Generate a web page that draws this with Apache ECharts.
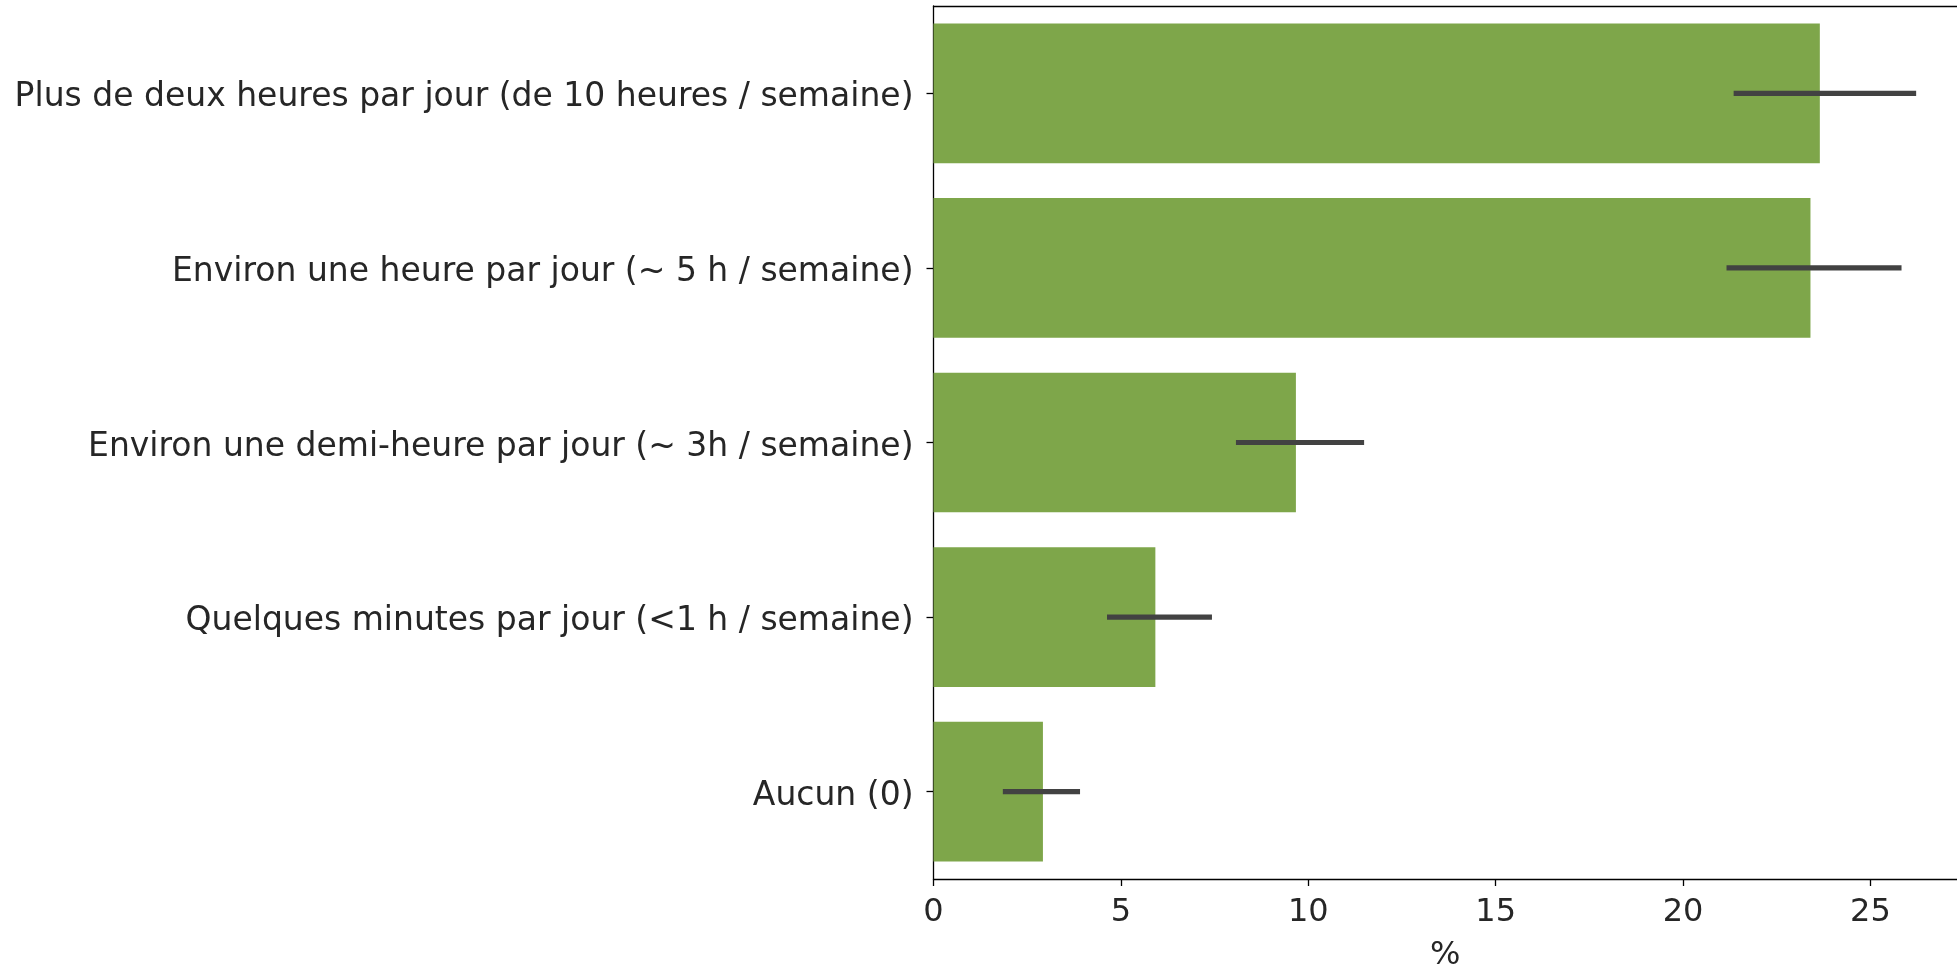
<!DOCTYPE html>
<html>
<head>
<meta charset="utf-8">
<script src="https://cdn.jsdelivr.net/npm/echarts@6/dist/echarts.min.js"></script>
<style>
  html, body { margin: 0; padding: 0; background: #fff; }
  #chart { width: 1957px; height: 967px; }
</style>
</head>
<body>
<div id="chart"></div>
<script>
// Time spent per day, share of respondents (%) with confidence intervals
const categories = [
  'Plus de deux heures par jour (de 10 heures / semaine)',
  'Environ une heure par jour (~ 5 h / semaine)',
  'Environ une demi-heure par jour (~ 3h / semaine)',
  'Quelques minutes par jour (<1 h / semaine)',
  'Aucun (0)'
];
const percentValues = [23.65, 23.40, 9.67, 5.92, 2.92];
const ciLow = [21.35, 21.16, 8.07, 4.63, 1.85];
const ciHigh = [26.22, 25.83, 11.49, 7.43, 3.91];
const xTicks = [0, 5, 10, 15, 20, 25];

const FONT = 'DejaVu Sans';
const TEXT = '#262626';
const X_MAX = 27.31;

const chart = echarts.init(document.getElementById('chart'), null, { renderer: 'canvas' });

const errorData = categories.map((c, i) => [i, ciLow[i], ciHigh[i]]);

chart.setOption({
  animation: false,
  backgroundColor: '#ffffff',
  grid: {
    left: 933.5,
    top: 6,
    bottom: 88,
    right: 0,
    show: false,
    containLabel: false,
    outerBoundsMode: 'none'
  },
  xAxis: [
    {
      type: 'value',
      min: 0,
      max: X_MAX,
      interval: 5,
      name: '%',
      nameLocation: 'middle',
      nameGap: 61,
      nameTextStyle: { fontFamily: FONT, fontSize: 32, color: TEXT },
      axisLine: { show: true, lineStyle: { color: '#000', width: 1.3 } },
      axisTick: { show: true, length: 7, lineStyle: { color: '#000', width: 1.3 } },
      axisLabel: {
        show: true,
        margin: 18,
        fontFamily: FONT,
        fontSize: 32,
        color: TEXT,
        showMaxLabel: false,
        formatter: v => (xTicks.includes(v) ? String(v) : '')
      },
      splitLine: { show: false }
    },
    {
      // top spine
      type: 'value',
      position: 'top',
      min: 0,
      max: X_MAX,
      axisLine: { show: true, onZero: false, lineStyle: { color: '#000', width: 1.3 } },
      axisTick: { show: false },
      axisLabel: { show: false },
      splitLine: { show: false }
    }
  ],
  yAxis: {
    type: 'category',
    data: categories,
    inverse: true,
    axisLine: { show: true, lineStyle: { color: '#000', width: 1.3 } },
    axisTick: { show: true, length: 7, alignWithLabel: true, lineStyle: { color: '#000', width: 1.3 } },
    axisLabel: {
      margin: 20,
      fontFamily: FONT,
      fontSize: 33,
      color: TEXT,
      formatter: v => '{lbl|' + v + '}',
      rich: {
        lbl: {
          fontFamily: FONT,
          fontSize: 33,
          color: TEXT,
          padding: [9, 0, 0, 0]
        }
      }
    },
    splitLine: { show: false }
  },
  series: [
    {
      type: 'bar',
      data: percentValues,
      barCategoryGap: '20%',
      itemStyle: { color: '#7ea64a' },
      silent: true,
      z: 2
    },
    {
      type: 'custom',
      data: errorData,
      z: 5,
      silent: true,
      renderItem: function (params, api) {
        const idx = api.value(0);
        const p1 = api.coord([api.value(1), idx]);
        const p2 = api.coord([api.value(2), idx]);
        return {
          type: 'line',
          shape: { x1: p1[0], y1: p1[1], x2: p2[0], y2: p2[1] },
          style: { stroke: '#424242', lineWidth: 5.2 }
        };
      },
      encode: { x: [1, 2], y: 0 }
    }
  ]
});
</script>
</body>
</html>
